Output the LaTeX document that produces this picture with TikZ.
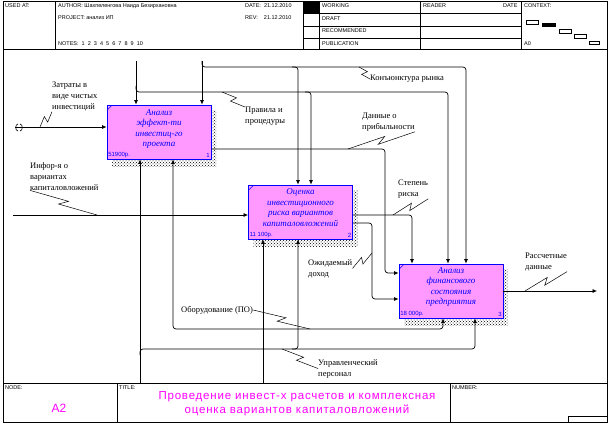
\documentclass[tikz,border=0pt]{standalone}
\usepackage{fontspec}
\setmainfont{Liberation Serif}
\setsansfont{Liberation Sans}
\usepackage{tikz}
\usetikzlibrary{calc}
\usetikzlibrary{positioning}
\usetikzlibrary{arrows.meta}
\usetikzlibrary{patterns}
\definecolor{boxfill}{RGB}{255,153,255}
\definecolor{boxline}{RGB}{0,0,255}
\definecolor{titlecol}{RGB}{255,0,255}
\tikzstyle{funcbox} = [draw=boxline, fill=boxfill, line width=0.8pt, minimum width=104pt, minimum height=54pt, inner sep=0pt]
\tikzstyle{boxtext} = [text=boxline, font=\fontsize{9}{10.5}\selectfont\itshape, align=center, inner sep=0pt]
\tikzstyle{costtext} = [text=boxline, font=\sffamily\fontsize{6}{7}\selectfont, inner sep=1.5pt]
\tikzstyle{arrlabel} = [font=\fontsize{8.5}{11}\selectfont, align=left, inner sep=0pt]
\tikzstyle{flow} = [line width=0.7pt, rounded corners=3pt, -{Latex[length=4.5pt,width=4pt]}]
\tikzstyle{leader} = [line width=0.5pt, to path={-- ($(\tikztostart)!.56!(\tikztotarget)!3pt!90:(\tikztotarget)$) -- ($(\tikztostart)!.44!(\tikztotarget)!3pt!-90:(\tikztotarget)$) -- (\tikztotarget)}]
\tikzstyle{hdr} = [font=\sffamily\fontsize{5.5}{6}\selectfont, anchor=west, inner sep=0pt]

\begin{document}
\begin{tikzpicture}[x=1pt, y=-1pt]
  \useasboundingbox (0,0) rectangle (612,425);

  % frame, header and footer
  \draw[line width=0.8pt] (3,1) rectangle (607,422);
  \draw[line width=0.8pt] (3,49) -- (607,49);
  \draw[line width=0.8pt] (3,383) -- (607,383);
  \foreach \hx in {55,303,319,420,521}
    \draw[line width=0.6pt] (\hx,1) -- (\hx,49);
  \foreach \hy in {13,26,38}
    \draw[line width=0.6pt] (303,\hy) -- (521,\hy);
  \fill (303,1) rectangle (319,13);
  \draw[line width=0.6pt] (117,383) -- (117,422);
  \draw[line width=0.6pt] (450,383) -- (450,422);
  \draw[line width=0.6pt] (568,416) rectangle (607,422);

  \node[hdr] (usedat) at (5,6) {USED AT:};
  \node[hdr] (author) at (58,6) {AUTHOR: Шахпеленгова Наида Безирхановна};
  \node[hdr] (date) at (245,6) {DATE:\ \ 21.12.2010};
  \node[hdr] (project) at (58,18) {PROJECT:\ анализ ИП};
  \node[hdr] (rev) at (245,18) {REV:\ \ \ \ 21.12.2010};
  \node[hdr] (notes) at (58,44) {NOTES:\ \ 1\ \ 2\ \ 3\ \ 4\ \ 5\ \ 6\ \ 7\ \ 8\ \ 9\ \ 10};
  \node[hdr] (working) at (322,6) {WORKING};
  \node[hdr] (draft) at (322,19) {DRAFT};
  \node[hdr] (recom) at (322,31) {RECOMMENDED};
  \node[hdr] (publ) at (322,44) {PUBLICATION};
  \node[hdr] (reader) at (423,6) {READER};
  \node[hdr] (rdate) at (503,6) {DATE};
  \node[hdr] (context) at (524,6) {CONTEXT:};
  \node[hdr] (azero) at (524,44) {A0};
  \draw[line width=0.6pt] (526,20) rectangle (538,24);
  \fill (542,23) rectangle (556,27);
  \draw[line width=0.6pt] (559,29) rectangle (571,33);
  \draw[line width=0.6pt] (574,34) rectangle (586,38);
  \draw[line width=0.6pt] (589,41) rectangle (599,44);

  \node[hdr] (nodehd) at (5,388) {NODE:};
  \node[hdr] (titlehd) at (119,388) {TITLE:};
  \node[hdr] (numberhd) at (452,388) {NUMBER:};
  \node[text=titlecol, font=\sffamily\fontsize{12}{14}\selectfont] (nodeno) at (59,408) {A2};
  \node[text=titlecol, font=\sffamily\fontsize{11.5}{14}\selectfont\addfontfeature{LetterSpace=7}, align=center] (title) at (297,404)
    {Проведение инвест-х расчетов и комплексная\\оценка вариантов капиталовложений};

  % activity boxes
  \foreach \cx/\cy in {159/132, 300.5/212, 451/291}
    \fill[pattern=crosshatch dots, pattern color=black] (\cx-47,\cy-22) rectangle (\cx+57,\cy+34);
  \node[funcbox] (b1) at (159,132) {};
  \node[funcbox] (b2) at (300.5,212) {};
  \node[funcbox] (b3) at (451,291) {};
  \foreach \b in {b1,b2,b3}
    \draw[boxline, line width=0.5pt] ($(\b.north west)+(1,5)$) -- ($(\b.north west)+(5,1)$);
  \node[boxtext] (t1) at ($(b1.center)+(0,-3)$) {Анализ\\эффект-ти\\инвестиц-го\\проекта};
  \node[boxtext] (t2) at ($(b2.center)+(0,-4.5)$) {Оценка\\инвестиционного\\риска вариантов\\капиталовложений};
  \node[boxtext] (t3) at ($(b3.center)+(0,-4)$) {Анализ\\финансового\\состояния\\предприятия};
  \node[costtext, anchor=south west] (c1) at (b1.south west) {51900р.};
  \node[costtext, anchor=south east] (n1) at (b1.south east) {1};
  \node[costtext, anchor=south west] (c2) at (b2.south west) {11 100р.};
  \node[costtext, anchor=south east] (n2) at (b2.south east) {2};
  \node[costtext, anchor=south west] (c3) at (b3.south west) {18 000р.};
  \node[costtext, anchor=south east] (n3) at (b3.south east) {3};

  % boundary ends
  \coordinate (ctlA) at (136,61);
  \coordinate (ctlB) at (202,61);
  \coordinate (inA) at (15,127);
  \coordinate (inB) at (13,215);
  \coordinate (mechA) at (263,383);
  \coordinate (mechB) at (140,383);
  \coordinate (outA) at (597,291);

  % tunnel mark
  \draw[line width=0.6pt] (18,124) .. controls (15,124) and (15,131) .. (18,131);
  \draw[line width=0.6pt] (20,124) .. controls (23,124) and (23,131) .. (20,131);

  % inputs
  \draw[flow] (inA) -- (b1.west |- inA);
  \draw[flow] (inB) -- (b2.west |- inB);

  % controls
  \draw[flow] (ctlA) -- (ctlA |- b1.north);
  \draw[flow] (136,86) -- (136,92) -- (448,92) -- (448,0 |- b3.north);
  \draw[flow] (305,92) -- (311,92) -- (311,0 |- b2.north);
  \draw[flow] (ctlB) -- (ctlB |- b1.north);
  \draw[flow] (202,61) -- (202,67) -- (466,67) -- (466,0 |- b3.north);
  \draw[flow] (292,67) -- (298,67) -- (298,0 |- b2.north);

  % outputs
  \draw[flow] (b1.east |- 0,149) -- (385,149) -- (385,273) -- (b3.west |- 0,273);
  \draw[flow] (b2.east |- 0,215) -- (412,215) -- (412,0 |- b3.north);
  \draw[flow] (b2.east |- 0,223) -- (372,223) -- (372,299) -- (b3.west |- 0,299);
  \draw[flow] (b3.east |- 0,291) -- (outA);

  % mechanisms
  \draw[flow] (mechA) -- (mechA |- b2.south);
  \draw[flow] (263,329) -- (173,329) -- (173,0 |- b1.south);
  \draw[flow] (263,329) -- (443,329) -- (443,0 |- b3.south);
  \draw[flow] (mechB) -- (mechB |- b1.south);
  \draw[flow] (140,355) -- (140,349) -- (475,349) -- (475,0 |- b3.south);
  \draw[flow] (292,349) -- (298,349) -- (298,0 |- b2.south);

  % arrow labels
  \node[arrlabel, anchor=north west] (lCost) at (52,82) {Затраты в\\виде чистых\\инвестиций};
  \node[arrlabel, anchor=north west] (lInfo) at (30,162) {Инфор-я о\\вариантах\\капиталовложений};
  \node[arrlabel, anchor=north west] (lRules) at (245,107) {Правила и\\процедуры};
  \node[arrlabel, anchor=west] (lMarket) at (370,79) {Конъюнктура рынка};
  \node[arrlabel, anchor=north west] (lProfit) at (362,113) {Данные о\\прибыльности};
  \node[arrlabel, anchor=north west] (lRisk) at (398,180) {Степень\\риска};
  \node[arrlabel, anchor=north west] (lIncome) at (308,259) {Ожидаемый\\доход};
  \node[arrlabel, anchor=west] (lEquip) at (181,310) {Оборудование (ПО)};
  \node[arrlabel, anchor=north west] (lStaff) at (318,359) {Управленческий\\персонал};
  \node[arrlabel, anchor=north west] (lResult) at (525,253) {Рассчетные\\данные};

  \coordinate (kCost) at (40,127);
  \coordinate (kInfo) at (97,215);
  \coordinate (kRules) at (222,92);
  \coordinate (kMarket) at (359,67);
  \coordinate (kProfit) at (348,149);
  \coordinate (kRisk) at (393,215);
  \coordinate (kIncome) at (372,253);
  \coordinate (kEquip) at (310,329);
  \coordinate (kStaff) at (282,349);
  \coordinate (kResult) at (525,291);

  \draw[leader] (kCost) to (lCost.south west);
  \draw[leader] (lInfo.south west) to (kInfo);
  \draw[leader] (kRules) to (lRules.north west);
  \draw[leader] (kMarket) to (lMarket.west);
  \draw[leader] (kProfit) to (lProfit.south east);
  \draw[leader] (kRisk) to (lRisk.south east);
  \draw[leader] (kIncome) to (lIncome.east);
  \draw[leader] (lEquip.east) to (kEquip);
  \draw[leader] (kStaff) to (lStaff.west);
  \draw[leader] (kResult) to (lResult.south east);
\end{tikzpicture}
\end{document}
